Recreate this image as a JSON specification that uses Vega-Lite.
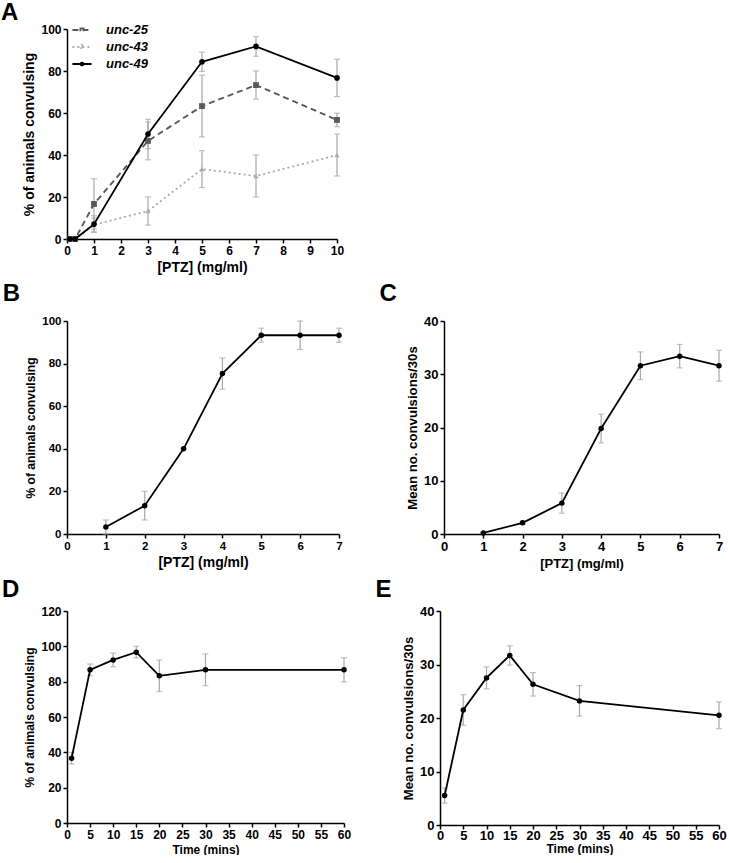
{
  "$schema": "https://vega.github.io/schema/vega-lite/v6.json",
  "background": "white",
  "padding": {"left": 0, "top": 1, "right": 4, "bottom": 0},
  "config": {
    "view": {"stroke": null},
    "font": "Liberation Sans",
    "axis": {
      "labelFont": "Liberation Sans", "labelFontWeight": "bold", "labelFontSize": 12, "labelColor": "#000",
      "titleFont": "Liberation Sans", "titleFontWeight": "bold", "titleFontSize": 13, "titleColor": "#000",
      "domainColor": "#000", "domainWidth": 1.5, "tickColor": "#000", "tickWidth": 1.5, "tickSize": 4,
      "grid": false, "labelPadding": 2, "titlePadding": 4, "labelFlush": false, "labelOverlap": false
    },
    "title": {"font": "Liberation Sans", "fontWeight": "bold", "fontSize": 24, "color": "#000", "anchor": "start", "frame": "bounds"}
  },
  "datasets": {
    "A": [
      {"series": "unc-25", "x": 0.1, "y": 0, "err": 0},
      {"series": "unc-25", "x": 0.3, "y": 0, "err": 0},
      {"series": "unc-25", "x": 1, "y": 16.7, "err": 12},
      {"series": "unc-25", "x": 3, "y": 46.7, "err": 9},
      {"series": "unc-25", "x": 5, "y": 63.3, "err": 14.7},
      {"series": "unc-25", "x": 7, "y": 73.3, "err": 6.7},
      {"series": "unc-25", "x": 10, "y": 56.7, "err": 3.2},
      {"series": "unc-43", "x": 0.1, "y": 0, "err": 0},
      {"series": "unc-43", "x": 0.3, "y": 0, "err": 0},
      {"series": "unc-43", "x": 1, "y": 6.7, "err": 3.3},
      {"series": "unc-43", "x": 3, "y": 13.3, "err": 6.7},
      {"series": "unc-43", "x": 5, "y": 33.3, "err": 8.8},
      {"series": "unc-43", "x": 7, "y": 30, "err": 10},
      {"series": "unc-43", "x": 10, "y": 40, "err": 10},
      {"series": "unc-49", "x": 0.1, "y": 0, "err": 0},
      {"series": "unc-49", "x": 0.3, "y": 0, "err": 0},
      {"series": "unc-49", "x": 1, "y": 7.1, "err": 4},
      {"series": "unc-49", "x": 3, "y": 50, "err": 7},
      {"series": "unc-49", "x": 5, "y": 84.4, "err": 4.6},
      {"series": "unc-49", "x": 7, "y": 91.7, "err": 4.7},
      {"series": "unc-49", "x": 10, "y": 76.7, "err": 8.9}
    ],
    "B": [
      {"x": 1, "y": 3.3, "err": 3.3},
      {"x": 2, "y": 13.3, "err": 6.7},
      {"x": 3, "y": 40, "err": 0},
      {"x": 4, "y": 75.3, "err": 7.3},
      {"x": 5, "y": 93.3, "err": 3.3},
      {"x": 6, "y": 93.3, "err": 6.7},
      {"x": 7, "y": 93.3, "err": 3.3}
    ],
    "C": [
      {"x": 1, "y": 0.2, "err": 0},
      {"x": 2, "y": 2.1, "err": 0.3},
      {"x": 3, "y": 5.8, "err": 1.9},
      {"x": 4, "y": 19.8, "err": 2.7},
      {"x": 5, "y": 31.6, "err": 2.6},
      {"x": 6, "y": 33.4, "err": 2.2},
      {"x": 7, "y": 31.6, "err": 2.9}
    ],
    "D": [
      {"x": 1, "y": 36.7, "err": 3.3},
      {"x": 5, "y": 86.7, "err": 3.3},
      {"x": 10, "y": 92.3, "err": 3.9},
      {"x": 15, "y": 96.7, "err": 3.3},
      {"x": 20, "y": 83.3, "err": 8.9},
      {"x": 30, "y": 86.7, "err": 9},
      {"x": 60, "y": 86.7, "err": 6.9}
    ],
    "E": [
      {"x": 1, "y": 5.5, "err": 1.4},
      {"x": 5, "y": 21.5, "err": 2.85},
      {"x": 10, "y": 27.5, "err": 2.05},
      {"x": 15, "y": 31.7, "err": 1.8},
      {"x": 20, "y": 26.3, "err": 2.2},
      {"x": 30, "y": 23.2, "err": 2.85},
      {"x": 60, "y": 20.5, "err": 2.5}
    ]
  },
  "spacing": 8,
  "vconcat": [
    {
      "title": {"text": "A", "dx": -22, "offset": -2},
      "width": 270, "height": 210,
      "data": {"name": "A"},
      "encoding": {
        "x": {"field": "x", "type": "quantitative", "scale": {"domain": [0, 10], "nice": false},
              "axis": {"values": [0,1,2,3,4,5,6,7,8,9,10], "title": "[PTZ] (mg/ml)", "titleFontSize": 14}},
        "y": {"field": "y", "type": "quantitative", "scale": {"domain": [0, 100], "nice": false},
              "axis": {"values": [0,20,40,60,80,100], "title": "% of animals convulsing", "titleFontSize": 14}}
      },
      "layer": [
        {"mark": {"type": "errorbar", "ticks": true, "color": "#a8a8a8", "thickness": 1.2, "size": 6},
         "encoding": {"yError": {"field": "err"}}},
        {"transform": [{"filter": "datum.series === 'unc-43'"}],
         "mark": {"type": "line", "color": "#aaaaaa", "strokeWidth": 1.8, "strokeDash": [2, 3],
                  "point": {"shape": "triangle-up", "filled": true, "color": "#aaaaaa", "opacity": 1, "size": 28}}},
        {"transform": [{"filter": "datum.series === 'unc-25'"}],
         "mark": {"type": "line", "color": "#5a5a5a", "strokeWidth": 1.9, "strokeDash": [6, 4],
                  "point": {"shape": "square", "filled": true, "color": "#5a5a5a", "opacity": 1, "size": 34}}},
        {"transform": [{"filter": "datum.series === 'unc-49'"}],
         "mark": {"type": "line", "color": "#000000", "strokeWidth": 1.8,
                  "point": {"shape": "circle", "filled": true, "color": "#000000", "opacity": 1, "size": 32}}},
        {"mark": {"type": "point", "filled": false, "opacity": 0},
         "encoding": {
           "color": {"field": "series", "type": "nominal", "scale": {"domain": ["unc-25","unc-43","unc-49"], "range": ["#5a5a5a","#aaaaaa","#000000"]},
             "legend": {
               "title": null, "orient": "none", "legendX": 6, "legendY": -8,
               "labelFont": "Liberation Sans", "labelFontSize": 13, "labelFontWeight": "bold", "labelFontStyle": "italic", "labelColor": "#000",
               "symbolSize": 256, "symbolOpacity": 1, "symbolStrokeWidth": 1.8, "rowPadding": 1, "labelOffset": 15
             }},
           "shape": {"field": "series", "type": "nominal", "scale": {"domain": ["unc-25","unc-43","unc-49"], "range": [
             "M-1.2,0L1.2,0M-0.2,-0.2L0.2,-0.2L0.2,0.2L-0.2,0.2Z",
             "M-1.2,0L1.2,0M0,-0.24L0.22,0.14L-0.22,0.14Z",
             "M-1.2,0L1.2,0M0.18,0A0.18,0.18 0 1,1 -0.18,0A0.18,0.18 0 1,1 0.18,0Z"]},
             "legend": {"title": null}},
           "strokeDash": {"field": "series", "type": "nominal", "scale": {"domain": ["unc-25","unc-43","unc-49"], "range": [[6,4],[2,3],[1,0]]}, "legend": {"title": null}}
         }}
      ]
    },
    {
      "spacing": 36,
      "hconcat": [
        {
          "title": {"text": "B", "dx": -22, "offset": 9},
          "width": 272, "height": 213,
          "data": {"name": "B"},
          "encoding": {
            "x": {"field": "x", "type": "quantitative", "scale": {"domain": [0, 7], "nice": false},
                  "axis": {"values": [0,1,2,3,4,5,6,7], "title": "[PTZ] (mg/ml)", "titleFontSize": 14, "labelFontSize": 11.5}},
            "y": {"field": "y", "type": "quantitative", "scale": {"domain": [0, 100], "nice": false},
                  "axis": {"values": [0,20,40,60,80,100], "title": "% of animals convulsing", "titleFontSize": 12.1, "labelFontSize": 11.5}}
          },
          "layer": [
            {"mark": {"type": "errorbar", "ticks": true, "color": "#a8a8a8", "thickness": 1.2, "size": 6},
             "encoding": {"yError": {"field": "err"}}},
            {"mark": {"type": "line", "color": "#000", "strokeWidth": 1.8}},
            {"mark": {"type": "circle", "color": "#000", "opacity": 1, "size": 30}}
          ]
        },
        {
          "title": {"text": "C", "dx": -26, "offset": 9},
          "width": 275, "height": 213,
          "data": {"name": "C"},
          "encoding": {
            "x": {"field": "x", "type": "quantitative", "scale": {"domain": [0, 7], "nice": false},
                  "axis": {"values": [0,1,2,3,4,5,6,7], "title": "[PTZ] (mg/ml)", "titleFontSize": 13, "labelFontSize": 13}},
            "y": {"field": "y", "type": "quantitative", "scale": {"domain": [0, 40], "nice": false},
                  "axis": {"values": [0,10,20,30,40], "title": "Mean no. convulsions/30s", "titleFontSize": 13.2, "labelFontSize": 13}}
          },
          "layer": [
            {"mark": {"type": "errorbar", "ticks": true, "color": "#a8a8a8", "thickness": 1.2, "size": 6},
             "encoding": {"yError": {"field": "err"}}},
            {"mark": {"type": "line", "color": "#000", "strokeWidth": 1.8}},
            {"mark": {"type": "circle", "color": "#000", "opacity": 1, "size": 30}}
          ]
        }
      ]
    },
    {
      "spacing": 24,
      "hconcat": [
        {
          "title": {"text": "D", "dx": -22, "offset": 3},
          "width": 277, "height": 212,
          "data": {"name": "D"},
          "encoding": {
            "x": {"field": "x", "type": "quantitative", "scale": {"domain": [0, 60], "nice": false},
                  "axis": {"values": [0,5,10,15,20,25,30,35,40,45,50,55,60], "title": "Time (mins)", "titleFontSize": 12}},
            "y": {"field": "y", "type": "quantitative", "scale": {"domain": [0, 120], "nice": false},
                  "axis": {"values": [0,20,40,60,80,100,120], "title": "% of animals convulsing", "titleFontSize": 12}}
          },
          "layer": [
            {"mark": {"type": "errorbar", "ticks": true, "color": "#a8a8a8", "thickness": 1.2, "size": 6},
             "encoding": {"yError": {"field": "err"}}},
            {"mark": {"type": "line", "color": "#000", "strokeWidth": 1.8}},
            {"mark": {"type": "circle", "color": "#000", "opacity": 1, "size": 30}}
          ]
        },
        {
          "title": {"text": "E", "dx": -26, "offset": 3},
          "width": 279, "height": 214,
          "data": {"name": "E"},
          "encoding": {
            "x": {"field": "x", "type": "quantitative", "scale": {"domain": [0, 60], "nice": false},
                  "axis": {"values": [0,5,10,15,20,25,30,35,40,45,50,55,60], "title": "Time (mins)", "titleFontSize": 12, "labelFontSize": 13, "labelPadding": 0, "titlePadding": 1}},
            "y": {"field": "y", "type": "quantitative", "scale": {"domain": [0, 40], "nice": false},
                  "axis": {"values": [0,10,20,30,40], "title": "Mean no. convulsions/30s", "titleFontSize": 13.2, "labelFontSize": 13}}
          },
          "layer": [
            {"mark": {"type": "errorbar", "ticks": true, "color": "#a8a8a8", "thickness": 1.2, "size": 6},
             "encoding": {"yError": {"field": "err"}}},
            {"mark": {"type": "line", "color": "#000", "strokeWidth": 1.8}},
            {"mark": {"type": "circle", "color": "#000", "opacity": 1, "size": 30}}
          ]
        }
      ]
    }
  ]
}
